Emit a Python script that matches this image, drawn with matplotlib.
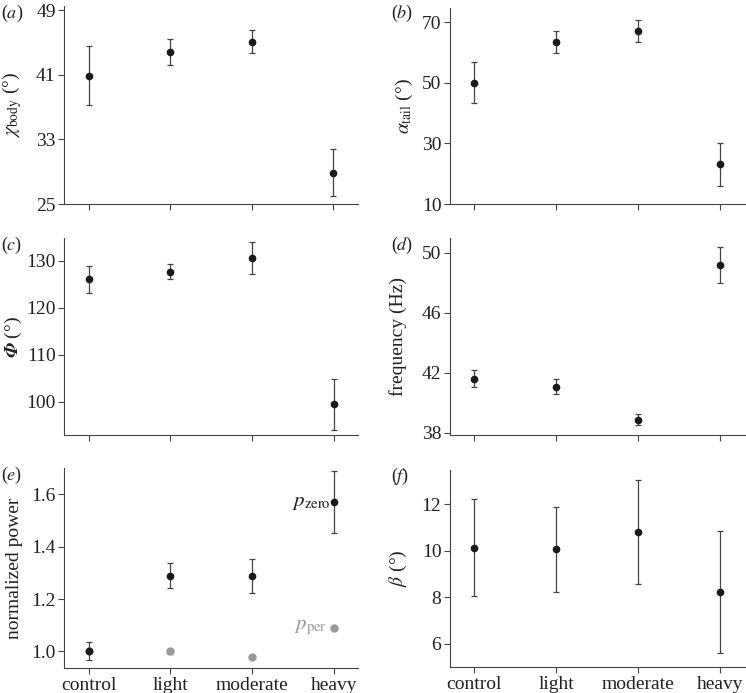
import numpy as np
import matplotlib
matplotlib.use("Agg")
from matplotlib import pyplot as plt

plt.rcParams['font.family'] = ['Liberation Serif', 'DejaVu Serif']
plt.rcParams['mathtext.fontset'] = 'stix'

groups = ["control", "light", "moderate", "heavy"]

# (a) chi_body
chi_mean = [40.9, 43.8, 45.1, 28.9]
chi_err = [3.6, 1.65, 1.4, 2.9]
# (b) alpha_tail
alpha_mean = [50.0, 63.6, 67.1, 23.1]
alpha_err = [6.8, 3.6, 3.7, 7.0]
# (c) phi
phi_mean = [126.1, 127.7, 130.6, 99.4]
phi_err = [2.85, 1.65, 3.5, 5.5]
# (d) frequency
freq_mean = [41.6, 41.05, 38.87, 49.18]
freq_err = [0.55, 0.5, 0.38, 1.2]
# (e) normalized power
pzero_mean = [1.0, 1.29, 1.29, 1.571]
pzero_err = [0.034, 0.046, 0.065, 0.12]
pper_mean = [1.0, 1.0, 0.98, 1.09]
pper_err = [0.005, 0.01, 0.004, 0.008]
# (f) beta
beta_mean = [10.14, 10.07, 10.81, 8.25]
beta_err = [2.07, 1.83, 2.25, 2.62]

fig = plt.figure(figsize=(7.46, 6.93), dpi=100)

# axes rectangles [left, bottom, width, height] in figure fraction
rects = [
    [0.0858, 0.7056, 0.394, 0.2857],
    [0.6028, 0.7056, 0.396, 0.2828],
    [0.0862, 0.3723, 0.394, 0.2838],
    [0.6028, 0.3723, 0.396, 0.2838],
    [0.0862, 0.0356, 0.394, 0.2886],
    [0.6028, 0.0371, 0.396, 0.2847],
]

panels = [
    (chi_mean, chi_err, r'$\chi_{\rm body}$ (°)', (25, 49.5), [25, 33, 41, 49], -0.177),
    (alpha_mean, alpha_err, r'$\alpha_{\rm tail}$ (°)', (10, 74.7), [10, 30, 50, 70], -0.152),
    (phi_mean, phi_err, r'$\mathbfit{Φ}$ (°)', (92.9, 134.8), [100, 110, 120, 130], -0.173),
    (freq_mean, freq_err, 'frequency (Hz)', (37.85, 50.96), [38, 42, 46, 50], -0.174),
    (pzero_mean, pzero_err, 'normalized power', (0.935, 1.70), [1.0, 1.2, 1.4, 1.6], -0.169),
    (beta_mean, beta_err, r'$\beta$ (°)', (5.0, 13.47), [6, 8, 10, 12], -0.175),
]
letters = ['a', 'b', 'c', 'd', 'e', 'f']
letter_pos = [(0.002, 0.981), (0.524, 0.981), (0.002, 0.6465),
              (0.524, 0.6465), (0.002, 0.3146), (0.524, 0.312)]

x = np.arange(len(groups))
ink = '#1a1a1a'
line = '#444444'

for i, (mean, err, ylab, ylim, yt, lx) in enumerate(panels):
    ax = fig.add_axes(rects[i])
    if i == 4:
        # grey periodic power drawn first so the black one sits on top
        ax.errorbar(x, pper_mean, yerr=pper_err, fmt='o', color='#999999',
                    ms=5, capsize=2, elinewidth=1.5, zorder=2)
    ax.errorbar(x, mean, yerr=err, fmt='o', color=ink, ecolor=line,
                ms=4.5, capsize=2.5, elinewidth=0.9, capthick=0.9, zorder=3)
    ax.set_xlim(-0.3, 3.3)
    ax.set_ylim(*ylim)
    ax.set_yticks(yt)
    if i == 4:
        ax.set_yticklabels(['1.0', '1.2', '1.4', '1.6'])
    ax.set_xticks(x)
    if i >= 4:
        ax.set_xticklabels(groups, fontsize=14)
    else:
        ax.set_xticklabels([])
    for s in ['top', 'right']:
        ax.spines[s].set_visible(False)
    for s in ['left', 'bottom']:
        ax.spines[s].set_color(line)
        ax.spines[s].set_linewidth(0.8)
    ax.tick_params(direction='out', length=4, width=0.8, color=line,
                   labelsize=14, labelcolor='#222222', pad=2)
    ax.set_ylabel(ylab, fontsize=14, color='#222222', va='center')
    ax.yaxis.set_label_coords(lx, 0.5)
    fig.text(letter_pos[i][0], letter_pos[i][1], r'($\mathit{%s}$)' % letters[i],
             fontsize=13, color='#222222', ha='left', va='center')
    if i == 4:
        ax.text(2.72, 1.571, r'$p_{\rm zero}$', fontsize=15, color=ink,
                ha='center', va='center')
        ax.text(2.72, 1.09, r'$p_{\rm per}$', fontsize=15, color='#999999',
                ha='center', va='center')

fig.savefig('out.png', dpi=100)
